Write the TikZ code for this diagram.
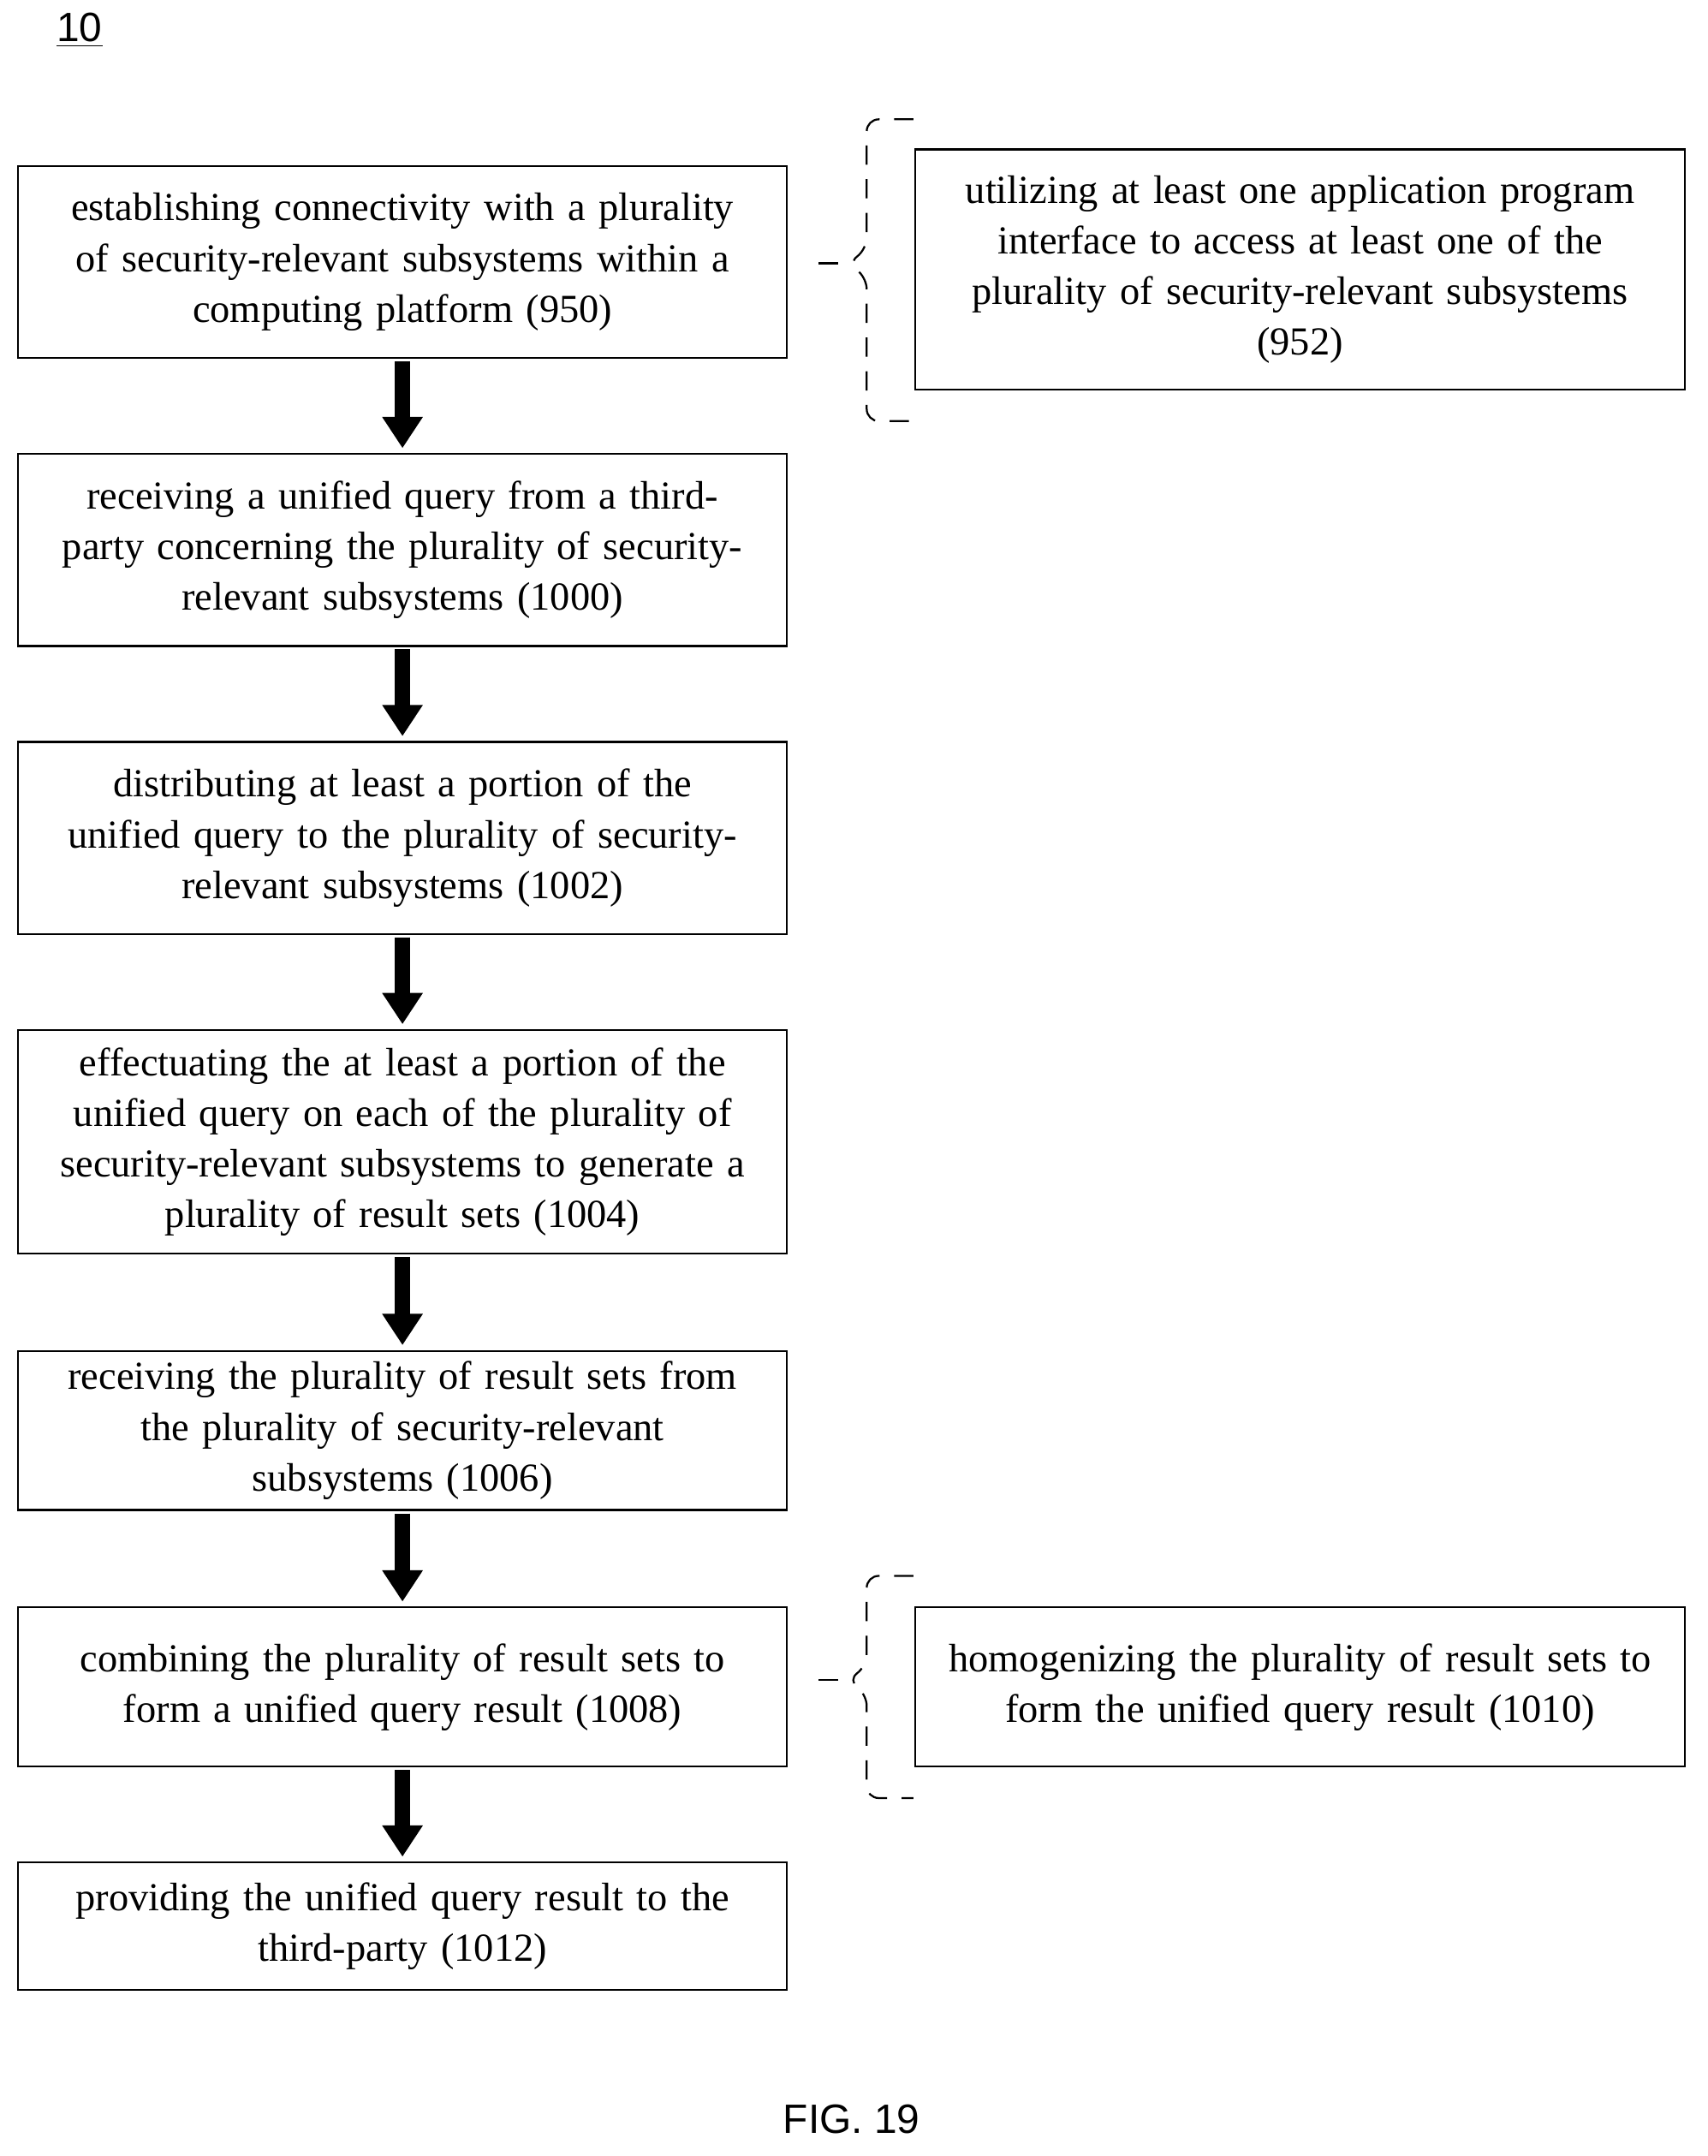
\documentclass[tikz,border=0pt]{standalone}
\usepackage{fontspec}
\setmainfont{Liberation Serif}
\setsansfont{Liberation Sans}
\usetikzlibrary{positioning,arrows.meta}

\begin{document}
\begin{tikzpicture}[x=0.02cm,y=-0.02cm,
	step box/.style={
		rectangle,draw,thick,minimum width=11.22cm,text width=11cm,
		align=center,inner sep=0pt,font=\fontsize{16.5}{21}\selectfont},
	tip/.style={
		-{Triangle[length=13pt,width=16pt]},line width=2.2mm,shorten <=1pt,shorten >=2pt},
	brace/.style={dash pattern=on 8pt off 6pt,thick,rounded corners=5pt}]
\useasboundingbox (0,0) rectangle (1245,1572);
\node[font=\sffamily\fontsize{17}{20}\selectfont] (fig number) at (58,22) {\underline{10}};
\node[step box,minimum height=2.8cm] (establish) at (293.5,191) {establishing connectivity with a plurality\\ of security-relevant subsystems within a\\ computing platform (950)};
\node[step box,minimum height=2.8cm] (receive query) at (293.5,401) {receiving a unified query from a third-\\party concerning the plurality of security-\\relevant subsystems (1000)};
\node[step box,minimum height=2.8cm] (distribute) at (293.5,611) {distributing at least a portion of the\\ unified query to the plurality of security-\\relevant subsystems (1002)};
\node[step box,minimum height=3.26cm] (effectuate) at (293.5,832.5) {effectuating the at least a portion of the\\ unified query on each of the plurality of\\ security-relevant subsystems to generate a\\ plurality of result sets (1004)};
\node[step box,minimum height=2.32cm] (receive sets) at (293.5,1043) {receiving the plurality of result sets from\\ the plurality of security-relevant\\ subsystems (1006)};
\node[step box,minimum height=2.32cm] (combine) at (293.5,1230) {combining the plurality of result sets to\\ form a unified query result (1008)};
\node[step box,minimum height=1.86cm] (provide) at (293.5,1404.5) {providing the unified query result to the\\ third-party (1012)};
\node[step box,minimum height=3.5cm] (api) at (948,196.5) {utilizing at least one application program\\ interface to access at least one of the\\ plurality of security-relevant subsystems\\ (952)};
\node[step box,minimum height=2.32cm] (homogenize) at (948,1230) {homogenizing the plurality of result sets to\\ form the unified query result (1010)};
\node[font=\sffamily\fontsize{17}{20}\selectfont] (fig label) at (621,1545) {FIG. 19};
\draw[tip] (establish.south) -- (receive query.north);
\draw[tip] (receive query.south) -- (distribute.north);
\draw[tip] (distribute.south) -- (effectuate.north);
\draw[tip] (effectuate.south) -- (receive sets.north);
\draw[tip] (receive sets.south) -- (combine.north);
\draw[tip] (combine.south) -- (provide.north);
% dashed braces
\draw[brace] (666,87) -- (632,87) -- (632,182) -- (618,192) -- (632,202) -- (632,307) -- (666,307);
\draw[brace] (597,192) -- (618,192);
\draw[brace] (666,1149) -- (632,1149) -- (632,1215) -- (618,1225) -- (632,1235) -- (632,1311) -- (666,1311);
\draw[brace] (597,1225) -- (618,1225);
\end{tikzpicture}
\end{document}
